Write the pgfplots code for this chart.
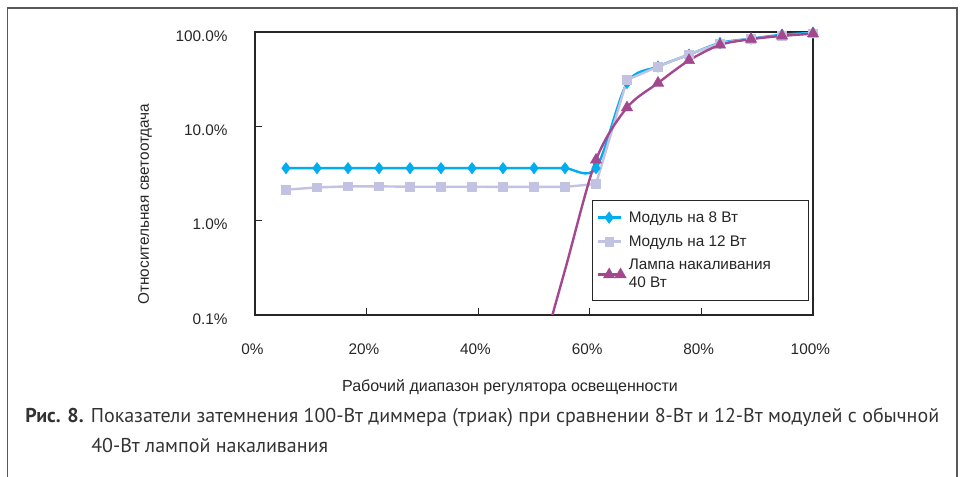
\documentclass[border=0pt]{standalone}
\usepackage{fontspec}
\setmainfont{Liberation Sans}
\newfontfamily\capfont{PT Sans}
\usepackage{pgfplots}
\pgfplotsset{compat=1.18}
\definecolor{c8}{HTML}{00AEEF}
\definecolor{c12}{HTML}{C2C2E2}
\definecolor{cl}{HTML}{A3488E}
\begin{document}
\begin{tikzpicture}
\useasboundingbox (0,0) rectangle (721.5pt,357.75pt);
\draw[line width=1.1pt, color=black!65] (5.5pt,0) -- (5.5pt,351.75pt) -- (717.75pt,351.75pt) -- (717.75pt,0);
\begin{axis}[
  at={(191.25pt,121.5pt)}, anchor=south west,
  scale only axis, width=418.5pt, height=212.25pt,
  xmin=0, xmax=100, ymode=log, ymin=0.1, ymax=100,
  xtick={0,20,40,60,80,100}, xticklabels={0\%,20\%,40\%,60\%,80\%,100\%},
  ytick={0.1,1,10,100}, yticklabels={0.1\%,1.0\%,10.0\%,100.0\%},
  yminorticks=false, xminorticks=false,
  tick pos=left, tick align=inside, major tick length=5pt,
  tick style={black!85, line width=0.8pt},
  axis line style={black!85, line width=1pt},
  ticklabel style={font=\fontsize{11.5}{13.5}\selectfont, text=black!85},
  xticklabel style={yshift=-18pt, xshift=-2pt},
  yticklabel style={xshift=-17pt, yshift=-3pt},
  legend style={at={(0.604,0.406)}, anchor=north west, draw=black!85, line width=0.8pt,
    font=\fontsize{11.5}{13.5}\selectfont, text=black!85,
    cells={anchor=west, align=left}, row sep=4.5pt, inner xsep=3pt, inner ysep=6pt},
  legend cell align=left,
  clip=true,
]
\addplot[c8, line width=1.8pt, smooth, mark=diamond*, mark size=4.2pt, mark options={fill=c8, draw=c8, line width=0.5pt}]
coordinates {
(5.556,3.6) (11.111,3.6) (16.667,3.6) (22.222,3.6) (27.778,3.6) (33.333,3.6)
(38.889,3.6) (44.444,3.6) (50,3.6) (55.556,3.6) (61.111,3.6) (66.667,28.8)
(72.222,43) (77.778,57.5) (83.333,76.5) (88.889,85) (94.444,93.5) (100,98)
};
\addlegendentry{\makebox[130pt][l]{Модуль на 8 Вт}}
\addplot[c12, line width=1.8pt, mark=square*, mark size=3.2pt, mark options={fill=c12, draw=c12, line width=0.5pt}]
coordinates {
(5.556,2.13) (11.111,2.25) (16.667,2.31) (22.222,2.31) (27.778,2.29) (33.333,2.29)
(38.889,2.29) (44.444,2.28) (50,2.28) (55.556,2.28) (61.111,2.45) (66.667,31)
(72.222,43) (77.778,58) (83.333,76) (88.889,85) (94.444,91) (100,97)
};
\addlegendentry{Модуль на 12 Вт}
\addplot[cl, line width=1.8pt, smooth, mark=triangle*, mark size=4.8pt, mark indices={2,...,10}, mark options={fill=cl, draw=cl, line width=0.5pt}]
coordinates {
(50,0.02) (55.556,0.30) (61.111,4.4) (66.667,15.8) (72.222,28.8)
(77.778,50) (83.333,73) (88.889,84) (94.444,91) (100,96)
};
\addlegendentry{Лампа накаливания\\40 Вт}
\end{axis}
\node[rotate=90, font=\fontsize{11.5}{13.5}\selectfont, text=black!85] at (108.75pt,204.75pt) {Относительная светоотдача};
\node[font=\fontsize{12}{14}\selectfont, text=black!85] at (382.5pt,67.5pt) {Рабочий диапазон регулятора освещенности};
\node[anchor=base west, inner sep=0pt, font=\capfont\fontsize{15}{18}\selectfont, text=black!80] at (18.75pt,40.5pt) {\textbf{Рис. 8.} Показатели затемнения 100-Вт диммера (триак) при сравнении 8-Вт и 12-Вт модулей с обычной};
\node[anchor=base west, inner sep=0pt, font=\capfont\fontsize{15}{18}\selectfont, text=black!80] at (68.25pt,18pt) {40-Вт лампой накаливания};
\end{tikzpicture}
\end{document}
